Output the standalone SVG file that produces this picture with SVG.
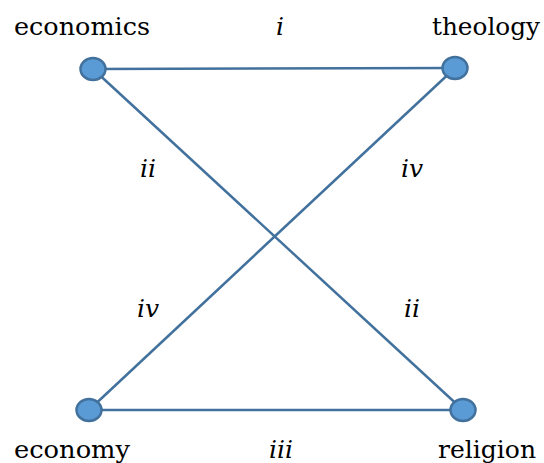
<svg xmlns="http://www.w3.org/2000/svg" width="544" height="463" viewBox="0 0 544 463">
<style>
.t{font-family:"DejaVu Serif","Liberation Serif",serif;font-size:25px;fill:#000}
.l{font-family:"DejaVu Serif","Liberation Serif",serif;font-size:25px;font-style:italic;fill:#000;text-anchor:middle}
.e{stroke:#41719C;stroke-width:2.5;fill:none}
.n{fill:#5B9BD5;stroke:#41719C;stroke-width:2.5}
</style>
<rect width="544" height="463" fill="#fff"/>
<g id="connectors">
<line class="e" x1="93" y1="69" x2="455" y2="68"/>
<line class="e" x1="89" y1="410" x2="463" y2="410"/>
<line class="e" x1="93" y1="69" x2="463" y2="410"/>
<line class="e" x1="455" y1="68" x2="89" y2="410"/>
</g>
<g id="economics"><ellipse class="n" cx="93" cy="69" rx="12.5" ry="11"/><text class="t" x="14" y="35" textLength="136" lengthAdjust="spacingAndGlyphs">economics</text></g>
<g id="theology"><ellipse class="n" cx="455" cy="68" rx="12.5" ry="11"/><text class="t" x="432" y="35" textLength="108" lengthAdjust="spacingAndGlyphs">theology</text></g>
<g id="economy"><ellipse class="n" cx="89" cy="410" rx="12.5" ry="11"/><text class="t" x="14" y="458" textLength="116" lengthAdjust="spacingAndGlyphs">economy</text></g>
<g id="religion"><ellipse class="n" cx="463" cy="410" rx="12.5" ry="11"/><text class="t" x="438" y="458" textLength="98" lengthAdjust="spacingAndGlyphs">religion</text></g>
<g id="labels">
<text class="l" x="280" y="35">i</text>
<text class="l" x="148" y="177">ii</text>
<text class="l" x="412" y="177">iv</text>
<text class="l" x="148" y="317">iv</text>
<text class="l" x="412" y="317">ii</text>
<text class="l" x="281" y="458">iii</text>
</g>
</svg>
